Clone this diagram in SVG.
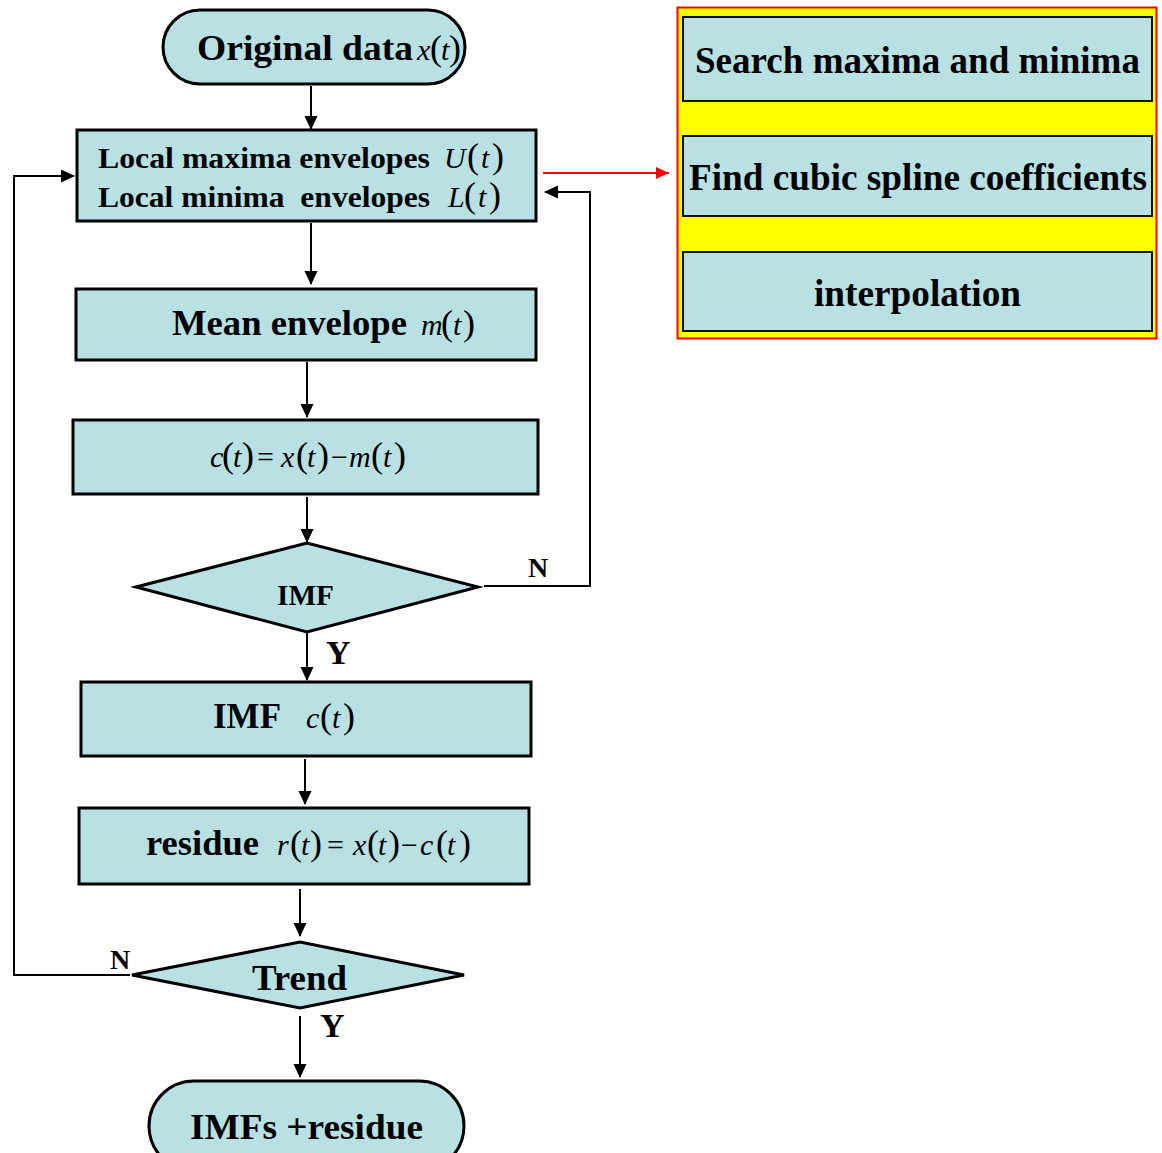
<svg xmlns="http://www.w3.org/2000/svg" width="1162" height="1153" viewBox="0 0 1162 1153">
  <style>
    .box { fill: #B9E0E3; stroke: #000; stroke-width: 3; }
    .sub { fill: #B9E0E3; stroke: #111; stroke-width: 2; }
    .t { font-family: "Liberation Serif", "Times New Roman", serif; font-weight: bold; fill: #000; }
    .m { font-family: "Liberation Serif", "Times New Roman", serif; font-style: italic; font-size: 30px; fill: #000; }
    .p { font-family: "Liberation Serif", "Times New Roman", serif; font-size: 36px; fill: #000; }
    .o { font-family: "Liberation Serif", "Times New Roman", serif; font-size: 30px; fill: #000; }
    .line { fill: none; stroke: #000; stroke-width: 2; }
  </style>
  <defs>
    <marker id="ah" markerWidth="14" markerHeight="14" refX="13" refY="6.5" orient="auto" markerUnits="userSpaceOnUse">
      <path d="M0,0 L14,6.5 L0,13 z" fill="#000"/>
    </marker>
    <marker id="ahr" markerWidth="14" markerHeight="14" refX="13" refY="6" orient="auto" markerUnits="userSpaceOnUse">
      <path d="M0,0 L13,6 L0,12 z" fill="#f00"/>
    </marker>
  </defs>
  <rect width="1162" height="1153" fill="#fff"/>

  <g id="connectors">
    <line class="line" x1="311" y1="86" x2="311" y2="129" marker-end="url(#ah)"/>
    <line class="line" x1="311" y1="223" x2="311" y2="284" marker-end="url(#ah)"/>
    <line class="line" x1="307" y1="362" x2="307" y2="417" marker-end="url(#ah)"/>
    <line class="line" x1="307" y1="497" x2="307" y2="542" marker-end="url(#ah)"/>
    <line class="line" x1="307" y1="633" x2="307" y2="680" marker-end="url(#ah)"/>
    <line class="line" x1="305" y1="759" x2="305" y2="804" marker-end="url(#ah)"/>
    <line class="line" x1="300" y1="889" x2="300" y2="936" marker-end="url(#ah)"/>
    <line class="line" x1="300" y1="1016" x2="300" y2="1077" marker-end="url(#ah)"/>
    <polyline class="line" points="484,586 590,586 590,192 545,192" marker-end="url(#ah)"/>
    <polyline class="line" points="130,975 14,975 14,176 74,176" marker-end="url(#ah)"/>
    <line x1="543" y1="173" x2="669" y2="173" stroke="#f00" stroke-width="2" marker-end="url(#ahr)"/>
    <text class="t" x="528" y="577" font-size="28">N</text>
    <text class="t" x="326" y="664" font-size="34">Y</text>
    <text class="t" x="110" y="969" font-size="28">N</text>
    <text class="t" x="320" y="1037" font-size="34">Y</text>
  </g>

  <g id="start">
    <rect class="box" x="163" y="10" width="302" height="74" rx="37" ry="37"/>
    <text class="t" x="197" y="60" font-size="36" textLength="216" lengthAdjust="spacingAndGlyphs">Original data</text>
    <text y="60"><tspan class="m" x="417">x</tspan><tspan class="p" x="430" font-size="34">(</tspan><tspan class="m" x="441">t</tspan><tspan class="p" x="449" font-size="34">)</tspan></text>
  </g>

  <g id="envelopes">
    <rect class="box" x="77" y="130" width="459" height="91"/>
    <text class="t" x="98" y="168" font-size="30" textLength="332" lengthAdjust="spacingAndGlyphs">Local maxima envelopes</text>
    <text y="168"><tspan class="m" x="444">U</tspan><tspan class="p" x="467">(</tspan><tspan class="m" x="481">t</tspan><tspan class="p" x="492">)</tspan></text>
    <text class="t" x="98" y="207" font-size="30" textLength="332" lengthAdjust="spacingAndGlyphs" xml:space="preserve">Local minima  envelopes</text>
    <text y="207"><tspan class="m" x="448">L</tspan><tspan class="p" x="464">(</tspan><tspan class="m" x="478">t</tspan><tspan class="p" x="489">)</tspan></text>
  </g>

  <g id="mean">
    <rect class="box" x="76" y="289" width="460" height="71"/>
    <text class="t" x="172" y="335" font-size="36" textLength="235" lengthAdjust="spacingAndGlyphs">Mean envelope</text>
    <text y="335"><tspan class="m" x="421">m</tspan><tspan class="p" x="441">(</tspan><tspan class="m" x="453">t</tspan><tspan class="p" x="463">)</tspan></text>
  </g>

  <g id="detail">
    <rect class="box" x="73" y="420" width="465" height="74"/>
    <text y="467"><tspan class="m" x="210">c</tspan><tspan class="p" x="222">(</tspan><tspan class="m" x="233">t</tspan><tspan class="p" x="242">)</tspan><tspan class="o" x="257">=</tspan><tspan class="m" x="281">x</tspan><tspan class="p" x="296">(</tspan><tspan class="m" x="307">t</tspan><tspan class="p" x="317">)</tspan><tspan class="o" x="331">−</tspan><tspan class="m" x="349">m</tspan><tspan class="p" x="371">(</tspan><tspan class="m" x="383">t</tspan><tspan class="p" x="394">)</tspan></text>
  </g>

  <g id="imf-test">
    <polygon class="box" points="136,587 307,543 478,587 307,632"/>
    <text class="t" x="277" y="605" font-size="30" textLength="57" lengthAdjust="spacingAndGlyphs">IMF</text>
  </g>

  <g id="imf">
    <rect class="box" x="81" y="682" width="450" height="74"/>
    <text class="t" x="213" y="728" font-size="36" textLength="68" lengthAdjust="spacingAndGlyphs">IMF</text>
    <text y="728"><tspan class="m" x="306">c</tspan><tspan class="p" x="320">(</tspan><tspan class="m" x="332">t</tspan><tspan class="p" x="343">)</tspan></text>
  </g>

  <g id="residue">
    <rect class="box" x="79" y="808" width="450" height="76"/>
    <text class="t" x="146" y="855" font-size="36" textLength="113" lengthAdjust="spacingAndGlyphs">residue</text>
    <text y="855"><tspan class="m" x="277">r</tspan><tspan class="p" x="290">(</tspan><tspan class="m" x="301">t</tspan><tspan class="p" x="310">)</tspan><tspan class="o" x="327">=</tspan><tspan class="m" x="353">x</tspan><tspan class="p" x="367">(</tspan><tspan class="m" x="378">t</tspan><tspan class="p" x="388">)</tspan><tspan class="o" x="401">−</tspan><tspan class="m" x="420">c</tspan><tspan class="p" x="436">(</tspan><tspan class="m" x="447">t</tspan><tspan class="p" x="459">)</tspan></text>
  </g>

  <g id="trend-test">
    <polygon class="box" points="132,975 300,942 464,975 300,1008"/>
    <text class="t" x="252" y="990" font-size="36" textLength="95" lengthAdjust="spacingAndGlyphs">Trend</text>
  </g>

  <g id="end">
    <rect class="box" x="149" y="1081" width="315" height="90" rx="45" ry="45"/>
    <text class="t" x="190" y="1139" font-size="36" textLength="233" lengthAdjust="spacingAndGlyphs">IMFs +residue</text>
  </g>

  <g id="spline-steps">
    <rect x="677.5" y="7.5" width="479" height="331" fill="#FFFF00" stroke="#f00" stroke-width="2"/>
    <g id="search">
      <rect class="sub" x="683" y="17" width="469" height="84"/>
      <text class="t" x="695" y="73" font-size="37" textLength="445" lengthAdjust="spacingAndGlyphs">Search maxima and minima</text>
    </g>
    <g id="coefficients">
      <rect class="sub" x="683" y="136" width="469" height="80"/>
      <text class="t" x="689" y="190" font-size="37" textLength="458" lengthAdjust="spacingAndGlyphs">Find cubic spline coefficients</text>
    </g>
    <g id="interpolation">
      <rect class="sub" x="683" y="252" width="469" height="79"/>
      <text class="t" x="814" y="306" font-size="37" textLength="207" lengthAdjust="spacingAndGlyphs">interpolation</text>
    </g>
  </g>
</svg>
